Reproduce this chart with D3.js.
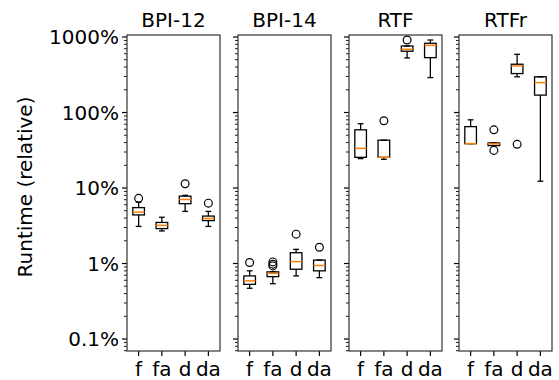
<!DOCTYPE html>
<html>
<head>
<meta charset="utf-8">
<script src="https://cdn.jsdelivr.net/npm/d3@7"></script>
<style>
  body { margin: 0; background: #fff; }
  text { font-family: "DejaVu Sans", sans-serif; fill: #000; }
</style>
</head>
<body>
<div id="chart"></div>
<script>
// ===========================================
// Data (runtime in % relative), one entry per panel, each with 4 categories
var panels = ["BPI-12", "BPI-14", "RTF", "RTFr"];
var categories = ["f", "fa", "d", "da"];

var whiskerLow = [[3.1, 2.7, 4.9, 3.1], [0.47, 0.54, 0.685, 0.65], [24.5, 24, 528, 290], [38.7, 36.4, 297, 12.3]];
var q1 = [[4.4, 2.9, 6.2, 3.7], [0.53, 0.67, 0.84, 0.80], [25.5, 25.5, 648, 533], [38.7, 36.4, 328, 170]];
var medians = [[4.8, 3.2, 7.05, 3.95], [0.59, 0.74, 1.06, 0.94], [33.5, 25.5, 688, 776], [38.7, 38.4, 414, 249]];
var q3 = [[5.5, 3.5, 7.8, 4.25], [0.685, 0.775, 1.39, 1.11], [59, 43, 760, 826], [65, 39.5, 436, 297]];
var whiskerHigh = [[6.5, 4.1, 8.0, 4.9], [0.80, 0.78, 1.54, 1.11], [71, 43, 760, 912], [80, 39.5, 590, 297]];
var outliers = [[[7.3], [], [11.4], [6.3]], [[1.03], [0.93, 0.98, 1.05], [2.45], [1.64]], [[], [77.8], [912], []], [[], [59, 31.5], [37.9], []]];

var yTickValues = [0.1, 1, 10, 100, 1000];
var yTickLabels = ["0.1%", "1%", "10%", "100%", "1000%"];

// ===========================================
// Set up SVG & layout
var svgWidth = 559, svgHeight = 380;
var panelLeft = [127, 238, 349, 459];
var panelWidth = 93;
var plotTop = 35, plotBottom = 351;

var svg = d3.select("#chart").append("svg")
    .attr("width", svgWidth)
    .attr("height", svgHeight);

var yscale = d3.scaleLog().domain([0.0694, 1063]).range([plotBottom, plotTop]);

var xscale = d3.scaleBand().domain(categories).range([0, panelWidth]).padding(0);
var boxW = xscale.bandwidth() * 0.5;

// minor ticks 2..9 of each decade
var minorTicks = [];
[0.01, 0.1, 1, 10, 100, 1000].forEach(function(d){
    for (var k = 2; k <= 9; k++) {
        var v = d * k;
        if (v > 0.0694 && v < 1063) minorTicks.push(v);
    }
});

panels.forEach(function(name, p){
    var g = svg.append("g").attr("transform", `translate(${panelLeft[p]},0)`);

    // y axis ticks
    g.selectAll(".major").data(yTickValues).enter().append("line")
        .attr("x1", -5).attr("x2", 0)
        .attr("y1", d => yscale(d)).attr("y2", d => yscale(d))
        .attr("stroke", "#000").attr("stroke-width", 1.2);
    g.selectAll(".minor").data(minorTicks).enter().append("line")
        .attr("x1", -3).attr("x2", 0)
        .attr("y1", d => yscale(d)).attr("y2", d => yscale(d))
        .attr("stroke", "#000").attr("stroke-width", 0.9);

    if (p === 0) {
        g.selectAll(".ylab").data(yTickValues).enter().append("text")
            .attr("x", -8)
            .attr("y", d => yscale(d))
            .attr("dy", "0.36em")
            .attr("text-anchor", "end")
            .attr("font-size", "20px")
            .text((d, i) => yTickLabels[i]);
    }

    // x ticks + labels
    categories.forEach(function(c){
        var cx = xscale(c) + xscale.bandwidth() / 2;
        g.append("line")
            .attr("x1", cx).attr("x2", cx)
            .attr("y1", plotBottom).attr("y2", plotBottom + 5)
            .attr("stroke", "#000").attr("stroke-width", 1.2);
        g.append("text")
            .attr("x", cx).attr("y", 376)
            .attr("text-anchor", "middle")
            .attr("font-size", "20px")
            .text(c);
    });

    // title
    g.append("text")
        .attr("x", panelWidth / 2).attr("y", 27)
        .attr("text-anchor", "middle")
        .attr("font-size", "20px")
        .text(name);

    // boxes
    categories.forEach(function(c, i){
        var cx = xscale(c) + xscale.bandwidth() / 2;
        var capW = boxW / 2;
        var bg = g.append("g").attr("stroke", "#000").attr("stroke-width", 1.3).attr("fill", "none");

        bg.append("line").attr("x1", cx).attr("x2", cx)
            .attr("y1", yscale(whiskerLow[p][i])).attr("y2", yscale(q1[p][i]));
        bg.append("line").attr("x1", cx).attr("x2", cx)
            .attr("y1", yscale(q3[p][i])).attr("y2", yscale(whiskerHigh[p][i]));
        bg.append("line").attr("x1", cx - capW / 2).attr("x2", cx + capW / 2)
            .attr("y1", yscale(whiskerLow[p][i])).attr("y2", yscale(whiskerLow[p][i]));
        bg.append("line").attr("x1", cx - capW / 2).attr("x2", cx + capW / 2)
            .attr("y1", yscale(whiskerHigh[p][i])).attr("y2", yscale(whiskerHigh[p][i]));
        bg.append("rect")
            .attr("x", cx - boxW / 2).attr("width", boxW)
            .attr("y", yscale(q3[p][i]))
            .attr("height", Math.max(0.01, yscale(q1[p][i]) - yscale(q3[p][i])));
        g.append("line")
            .attr("x1", cx - boxW / 2).attr("x2", cx + boxW / 2)
            .attr("y1", yscale(medians[p][i])).attr("y2", yscale(medians[p][i]))
            .attr("stroke", "#ff7f0e").attr("stroke-width", 1.5);

        g.selectAll(null).data(outliers[p][i]).enter().append("circle")
            .attr("cx", cx).attr("cy", d => yscale(d))
            .attr("r", 3.9)
            .attr("fill", "none").attr("stroke", "#000").attr("stroke-width", 1.2);
    });

    // frame
    g.append("rect")
        .attr("x", 0).attr("y", plotTop)
        .attr("width", panelWidth).attr("height", plotBottom - plotTop)
        .attr("fill", "none").attr("stroke", "#333").attr("stroke-width", 1.2);
});

// y axis label
svg.append("text")
    .attr("transform", `translate(32, 187) rotate(-90)`)
    .attr("text-anchor", "middle")
    .attr("font-size", "20px")
    .text("Runtime (relative)");
</script>
</body>
</html>
